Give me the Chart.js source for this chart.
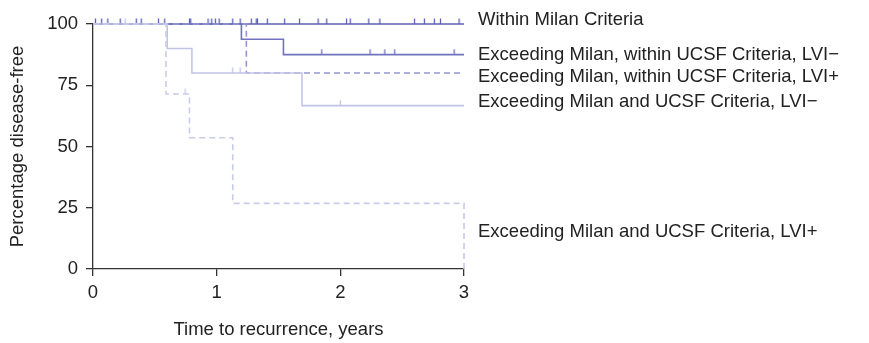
<!DOCTYPE html>
<html>
<head>
<meta charset="utf-8">
<script src="https://cdn.jsdelivr.net/npm/chart.js@4"></script>
<style>
  html, body { margin: 0; padding: 0; background: #fff; }
  #wrap { width: 869px; height: 343px; }
</style>
</head>
<body>
<div id="wrap"><canvas id="km" width="869" height="343"></canvas></div>
<script>
// Kaplan-Meier step curves: event times (years) and survival after each step (%)
const milanTimes = [0, 3];
const milanSurv = [100, 100];
const ucsfNegTimes = [0, 1.20, 1.54, 3];
const ucsfNegSurv = [100, 93.8, 87.5, 87.5];
const ucsfPosTimes = [0, 1.24, 3];
const ucsfPosSurv = [100, 80, 80];
const beyondNegTimes = [0, 0.60, 0.80, 1.69, 3];
const beyondNegSurv = [100, 90, 80, 66.7, 66.7];
const beyondPosTimes = [0, 0.59, 0.78, 1.13, 3, 3];
const beyondPosSurv = [100, 71.4, 53.6, 26.8, 26.8, 0];

// censored observations (years)
const milanCensor = [0.02, 0.07, 0.12, 0.22, 0.35, 0.39, 0.53, 0.58, 0.78, 0.79, 0.93, 0.96,
  0.99, 1.02, 1.13, 1.19, 1.28, 1.32, 1.33, 1.41, 1.55, 1.67, 1.82, 1.89, 2.05, 2.08, 2.23,
  2.32, 2.60, 2.68, 2.76, 2.81, 2.96];
const ucsfNegCensor = [1.85, 2.24, 2.36, 2.44, 2.92];
const beyondNegCensor = [0.26, 1.13, 1.19, 2.00];
const beyondPosCensor = [0.745];

const seriesNames = [
  'Within Milan Criteria',
  'Exceeding Milan, within UCSF Criteria, LVI\u2212',
  'Exceeding Milan, within UCSF Criteria, LVI+',
  'Exceeding Milan and UCSF Criteria, LVI\u2212',
  'Exceeding Milan and UCSF Criteria, LVI+'
];
const xTicks = [0, 1, 2, 3];
const yTicks = [0, 25, 50, 75, 100];

// where the right-hand labels sit, in y-axis units
const labelLevels = [101.6, 87.4, 78.4, 68.2, 15.2];

const colors = ['#5d61b4', '#7074bf', '#9496d2', '#c2c4e7', '#c9cbea'];
const FONT = 'Liberation Sans, Arial, Helvetica, sans-serif';

function stepPoints(times, surv) {
  return times.map((t, i) => ({ x: t, y: surv[i] }));
}

function survivalAt(times, surv, t) {
  let s = surv[0];
  for (let i = 0; i < times.length; i++) {
    if (times[i] <= t) s = surv[i];
  }
  return s;
}

function censorPoints(ctimes, times, surv) {
  return ctimes.map(t => ({ x: t, y: survivalAt(times, surv, t) }));
}

// small upward tick used as the censor marker
function tickMarker(color) {
  const c = document.createElement('canvas');
  c.width = 3; c.height = 12;
  const g = c.getContext('2d');
  g.strokeStyle = color;
  g.lineWidth = 1.3;
  g.beginPath();
  g.moveTo(1.5, 0.5);
  g.lineTo(1.5, 6);
  g.stroke();
  return c;
}

function curve(times, surv, color, dash, order) {
  return {
    type: 'line',
    data: stepPoints(times, surv),
    borderColor: color,
    borderWidth: 1.6,
    borderDash: dash,
    stepped: 'before',
    pointRadius: 0,
    fill: false,
    clip: false,
    order: order
  };
}

function censors(ctimes, times, surv, color, order) {
  return {
    type: 'scatter',
    data: censorPoints(ctimes, times, surv),
    pointStyle: tickMarker(color),
    pointRadius: 3,
    showLine: false,
    clip: false,
    order: order
  };
}

const sideLabels = {
  id: 'sideLabels',
  afterDraw(chart) {
    const ctx = chart.ctx;
    const y = chart.scales.y;
    ctx.save();
    ctx.font = '18.5px ' + FONT;
    ctx.fillStyle = '#222';
    ctx.textBaseline = 'middle';
    ctx.textAlign = 'left';
    seriesNames.forEach((name, i) => {
      ctx.fillText(name, chart.chartArea.right + 14, y.getPixelForValue(labelLevels[i]));
    });
    ctx.restore();
  }
};

const axisFont = { family: FONT, size: 18.5 };

// higher order is drawn first, so the pale curves end up on top
new Chart(document.getElementById('km'), {
  type: 'line',
  data: {
    datasets: [
      curve(milanTimes, milanSurv, colors[0], [], 5),
      censors(milanCensor, milanTimes, milanSurv, colors[0], 5),
      curve(ucsfNegTimes, ucsfNegSurv, colors[1], [], 4),
      censors(ucsfNegCensor, ucsfNegTimes, ucsfNegSurv, colors[1], 4),
      curve(ucsfPosTimes, ucsfPosSurv, colors[2], [6, 4], 3),
      curve(beyondNegTimes, beyondNegSurv, colors[3], [], 2),
      censors(beyondNegCensor, beyondNegTimes, beyondNegSurv, colors[3], 2),
      curve(beyondPosTimes, beyondPosSurv, colors[4], [6, 4], 1),
      censors(beyondPosCensor, beyondPosTimes, beyondPosSurv, colors[4], 1)
    ]
  },
  options: {
    responsive: false,
    animation: false,
    layout: { padding: { top: 24, right: 405, bottom: 0, left: 0 } },
    plugins: {
      legend: { display: false },
      tooltip: { enabled: false }
    },
    scales: {
      x: {
        type: 'linear',
        min: 0,
        max: 3,
        afterBuildTicks: (s) => { s.ticks = xTicks.map(v => ({ value: v })); },
        grid: { drawOnChartArea: false, drawTicks: true, tickLength: 7, color: '#333', lineWidth: 1.3 },
        border: { display: true, color: '#333', width: 1.3 },
        ticks: { color: '#222', font: axisFont, padding: 6 },
        title: {
          display: true,
          text: 'Time to recurrence, years',
          color: '#222',
          font: axisFont,
          padding: { top: 4, bottom: 2 }
        },
        afterFit: (s) => { s.height = 74; }
      },
      y: {
        min: 0,
        max: 100,
        afterBuildTicks: (s) => { s.ticks = yTicks.map(v => ({ value: v })); },
        grid: { drawOnChartArea: false, drawTicks: true, tickLength: 7, color: '#333', lineWidth: 1.3 },
        border: { display: true, color: '#333', width: 1.3 },
        ticks: { color: '#222', font: axisFont, padding: 8 },
        title: {
          display: true,
          text: 'Percentage disease-free',
          color: '#222',
          font: axisFont,
          padding: { top: 7, bottom: 4 }
        },
        afterFit: (s) => { s.width = 93; }
      }
    }
  },
  plugins: [sideLabels]
});
</script>
</body>
</html>
